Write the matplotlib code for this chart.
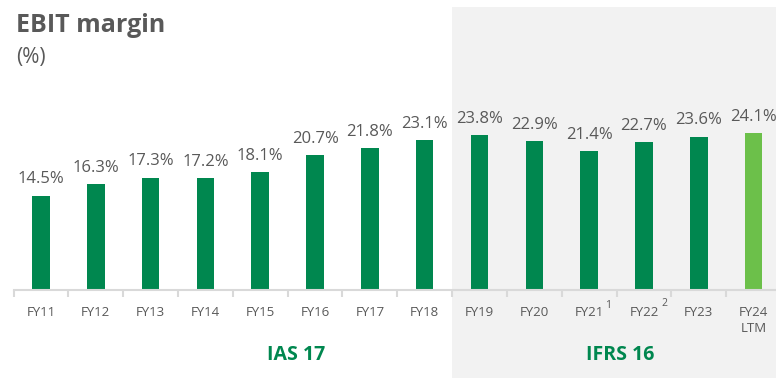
import matplotlib
matplotlib.use('Agg')
import matplotlib.pyplot as plt
from matplotlib.transforms import blended_transform_factory

# ===================== DATOS =====================
PERIODOS = ['FY11', 'FY12', 'FY13', 'FY14', 'FY15', 'FY16', 'FY17',
            'FY18', 'FY19', 'FY20', 'FY21', 'FY22', 'FY23', 'FY24\nLTM']
MARGEN = [14.5, 16.3, 17.3, 17.2, 18.1, 20.7, 21.8,
          23.1, 23.8, 22.9, 21.4, 22.7, 23.6, 24.1]
NOTAS = {'FY21': '1', 'FY22': '2'}
INICIO_IFRS = 8  # primer periodo con IFRS 16

VERDE = '#00874F'
VERDE_CLARO = '#6CC04A'
GRIS_TXT = '#595959'
FONDO = '#F2F2F2'

plt.rcParams['font.family'] = ['Open Sans', 'DejaVu Sans']

W, H = 776, 378
fig = plt.figure(figsize=(W / 100, H / 100), dpi=100)
left = 13.6 / W
right = 781 / W
bottom = (H - 290) / H
top = (H - 7) / H
ax = fig.add_axes([left, bottom, right - left, top - bottom])
ax.patch.set_visible(False)

x = list(range(len(PERIODOS)))
colores = [VERDE] * (len(x) - 1) + [VERDE_CLARO]

# fondo gris del periodo IFRS 16 (baja hasta el borde de la figura)
tr = blended_transform_factory(ax.transData, fig.transFigure)
ax.add_patch(plt.Rectangle((INICIO_IFRS - 0.5, 0), 20, top, transform=tr,
                           facecolor=FONDO, edgecolor='none', clip_on=False,
                           zorder=0))

ax.bar(x, MARGEN, width=0.32, color=colores, zorder=2)
for xi, v in zip(x, MARGEN):
    ax.annotate(f'{v:.1f}%', (xi, v), xytext=(0, 6), textcoords='offset points',
                ha='center', va='bottom', fontsize=12, color=GRIS_TXT)

ax.set_xlim(-0.5, len(x) - 0.5)
ax.set_ylim(0, 283 / 6.5)

for s in ['top', 'right', 'left']:
    ax.spines[s].set_visible(False)
ax.spines['bottom'].set_color('#D9D9D9')
ax.spines['bottom'].set_linewidth(1.5)
ax.set_yticks([])

ax.set_xticks(x)
ax.set_xticklabels(PERIODOS, fontsize=9.5, color=GRIS_TXT, linespacing=1.3)
ax.tick_params(axis='x', which='major', length=0, pad=11.5)
ax.set_xticks([i + 0.5 for i in range(-1, len(x))], minor=True)
ax.tick_params(axis='x', which='minor', length=5, width=1.5, color='#D9D9D9')

# superindices de notas al pie
offsets = {'FY21': (13.7, -11.5), 'FY22': (14.5, -9.4)}
for i, p in enumerate(PERIODOS):
    if p in NOTAS:
        ax.annotate(NOTAS[p], (i, 0), xytext=offsets[p],
                    textcoords='offset points', ha='center', va='center',
                    fontsize=7.5, color=GRIS_TXT, annotation_clip=False)

fig.text(16 / W, 1 - 26 / H, 'EBIT margin', fontsize=18, fontweight='bold',
         color=GRIS_TXT, va='center', ha='left')
fig.text(16 / W, 1 - 58 / H, '(%)', fontsize=15, color=GRIS_TXT,
         va='center', ha='left')

fig.text(296 / W, 1 - 355 / H, 'IAS 17', fontsize=14, fontweight='bold',
         color=VERDE, ha='center', va='center')
fig.text(620 / W, 1 - 355 / H, 'IFRS 16', fontsize=14, fontweight='bold',
         color=VERDE, ha='center', va='center')

fig.savefig('out.png', dpi=100)
